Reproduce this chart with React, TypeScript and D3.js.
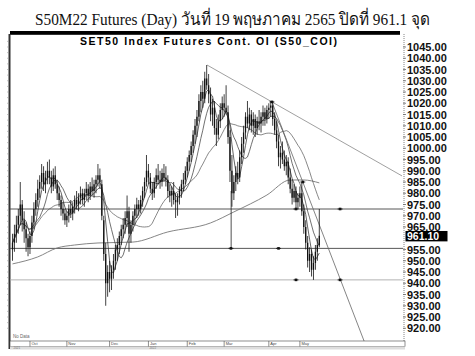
import React from 'react';
import * as d3 from 'd3';

// ---- data ----
const monthLabels = ['Oct', 'Nov', 'Dec', 'Jan', 'Feb', 'Mar', 'Apr', 'May'];
const monthStartIdx = [9, 28, 50, 70, 90, 109, 132, 148];
const yearLabels = ['2021', '2022'];
const yearStartIdx = [0, 70];

const openP = [
  955, 958, 962, 966, 970, 975, 968, 964, 960,
  956, 961, 967, 973, 977, 982, 985, 989, 984, 987, 990, 987, 983, 988, 984, 980, 977, 973, 971,
  968, 970, 973, 971, 974, 977, 975, 978, 980, 977, 980, 982, 979, 983, 981, 984, 986, 988, 984, 968, 953, 940,
  945, 942, 946, 950, 955, 957, 961, 964, 966, 969, 972, 962, 966, 970, 973, 975, 973, 977, 981, 985,
  990, 987, 982, 980, 985, 988, 986, 985, 989, 987, 986, 981, 979, 981, 977, 976, 978, 981, 984, 986,
  990, 994, 997, 1001, 1006, 1010, 1014, 1021, 1025, 1022, 1031, 1028, 1024, 1015, 1018, 1009, 1006, 1012, 1017,
  1020, 1018, 1016, 1005, 990, 980, 985, 989, 987, 996, 1002, 1007, 1014, 1011, 1015, 1010, 1013, 1009, 1012, 1011, 1014, 1016, 1013,
  1017, 1018, 1019, 1013, 1008, 1003, 996, 998, 995, 992, 994, 987, 982, 978, 981, 976,
  978, 980, 972, 965, 958, 950, 953, 946, 949, 954, 957,
];
const highP = [
  962, 966, 970, 973, 985, 977, 972, 967, 962,
  963, 970, 976, 980, 986, 988, 993, 992, 990, 994, 995, 990, 991, 992, 986, 983, 979, 976, 973,
  972, 975, 977, 976, 979, 981, 980, 983, 982, 982, 985, 984, 985, 987, 986, 988, 993, 991, 986, 970, 958, 948,
  950, 948, 953, 957, 960, 963, 966, 969, 972, 979, 974, 968, 972, 975, 978, 977, 979, 983, 987, 997,
  993, 989, 985, 987, 991, 993, 990, 991, 993, 992, 988, 984, 983, 985, 980, 980, 983, 986, 989, 992,
  996, 999, 1003, 1008, 1013, 1017, 1024, 1028, 1030, 1034, 1037, 1033, 1027, 1022, 1021, 1013, 1015, 1020, 1023,
  1024, 1028, 1019, 1008, 997, 988, 992, 994, 999, 1005, 1010, 1016, 1021, 1018, 1017, 1016, 1015, 1014, 1017, 1016, 1019, 1018, 1019,
  1020, 1021, 1021, 1016, 1012, 1006, 1001, 1003, 999, 997, 996, 991, 986, 984, 983, 980,
  983, 985, 975, 968, 961, 956, 955, 952, 957, 960, 973,
];
const lowP = [
  950, 954, 958, 962, 966, 963, 958, 954, 952,
  953, 958, 964, 970, 974, 978, 982, 981, 980, 984, 984, 980, 981, 982, 977, 974, 970, 968, 966,
  965, 967, 969, 968, 971, 973, 972, 975, 975, 974, 977, 976, 977, 979, 978, 980, 983, 982, 968, 950, 930, 934,
  936, 937, 942, 946, 950, 953, 957, 960, 962, 965, 954, 958, 963, 966, 969, 970, 971, 974, 978, 983,
  984, 980, 977, 978, 982, 984, 982, 983, 985, 983, 978, 976, 974, 975, 969, 970, 975, 978, 981, 984,
  987, 990, 994, 998, 1002, 1005, 1012, 1016, 1018, 1020, 1026, 1020, 1012, 1010, 1006, 1001, 1004, 1009, 1013,
  1014, 1015, 1002, 985, 974, 977, 981, 984, 985, 993, 998, 1004, 1009, 1008, 1007, 1006, 1005, 1006, 1008, 1007, 1010, 1010, 1011,
  1013, 1014, 1010, 1006, 1000, 992, 991, 993, 990, 988, 984, 980, 975, 976, 973, 973,
  974, 970, 962, 955, 947, 945, 943, 941.5, 946, 950, 956,
];
const closeP = [
  958, 962, 966, 970, 975, 968, 964, 960, 956,
  961, 967, 973, 977, 982, 985, 989, 984, 987, 990, 987, 983, 988, 984, 980, 977, 973, 971, 968,
  970, 973, 971, 974, 977, 975, 978, 980, 977, 980, 982, 979, 983, 981, 984, 986, 988, 985, 970, 953, 940, 945,
  942, 946, 950, 955, 957, 961, 964, 966, 969, 972, 962, 966, 970, 973, 975, 973, 977, 981, 985, 990,
  987, 982, 980, 985, 988, 986, 985, 989, 987, 986, 981, 979, 981, 977, 976, 978, 981, 984, 986, 990,
  994, 997, 1001, 1006, 1010, 1014, 1021, 1025, 1022, 1031, 1028, 1024, 1015, 1018, 1009, 1006, 1012, 1017, 1020,
  1018, 1016, 1005, 990, 980, 985, 989, 987, 996, 1002, 1007, 1014, 1011, 1015, 1010, 1013, 1009, 1012, 1011, 1014, 1016, 1013, 1017,
  1018, 1019, 1013, 1008, 1003, 996, 998, 995, 992, 994, 987, 982, 978, 981, 976, 978,
  980, 972, 965, 958, 950, 953, 946, 949, 954, 957, 961.1,
];

// long moving average: [bar index, value]
const longMA: [number, number][] = [
  [0, 948.6], [13, 951.7], [23, 955.7], [32, 957], [44, 957.9], [62, 958.3], [80, 962.8],
  [102, 966.8], [114, 971.7], [131, 979.2], [143, 985.9], [150, 985.9], [158, 984.6],
];
const maPeriods = [5, 10, 25];

const yTickValues = [
  1045, 1040, 1035, 1030, 1025, 1020, 1015, 1010, 1005, 1000, 995, 990, 985, 980, 975, 970, 965,
  955, 950, 945, 940, 935, 930, 925, 920,
];
const lastClose = 961.1;

const levels = [973, 955.5, 941.5];
const levelColors = ['#444', '#444', '#aaa'];
const levelMarkers: [number, number][] = [
  [146, 973], [168.7, 973], [112.5, 955.5], [137, 955.5], [146, 941.5], [168.7, 941.5],
];
const peakMarkers: [number, number][] = [[133.6, 1020.6], [149.5, 985]];
const trendA: [number, number][] = [[100.2, 1037], [133.6, 1020.6]];
const trendB: [number, number][] = [[133.6, 1020.6], [149.5, 985]];
const dropLine: [number, number][] = [[112.6, 981], [112.6, 955.5]];

const title = 'S50M22 Futures (Day) วันที่ 19 พฤษภาคม 2565 ปิดที่ 961.1 จุด';
const subTitle = 'SET50 Index Futures Cont. OI (S50_COI)';

// ---- layout ----
const W = 475, H = 356;
const PL = 10, PR = 403, PT = 34, PB = 341;

function sma(vals: number[], n: number): number[] {
  return vals.map((_, i) => {
    const s = Math.max(0, i - n + 1);
    const w = vals.slice(s, i + 1);
    return d3.mean(w) as number;
  });
}

export default function App() {
  const x = d3.scaleLinear().domain([0, 158]).range([12.5, 319.3]);
  const y = d3.scaleLinear().domain([920, 1045]).range([328.25, 47]);

  const lineGen = d3.line<[number, number]>().x(d => x(d[0])).y(d => y(d[1]));
  const curveGen = d3.line<[number, number]>().x(d => x(d[0])).y(d => y(d[1])).curve(d3.curveMonotoneX);

  const mas = maPeriods.map(p => sma(closeP, p).map((v, i) => [i, v] as [number, number]));

  const extend = (pts: [number, number][], toIdx: number): [number, number][] => {
    const [a, b] = pts;
    const slope = (b[1] - a[1]) / (b[0] - a[0]);
    return [a, [toIdx, a[1] + slope * (toIdx - a[0])]];
  };
  const tA = extend(trendA, x.invert(PR - 1));
  const tB = extend(trendB, x.invert(380));

  const leftTicks = d3.range(920, 1050, 2.5);
  const bw = 1.3;

  return (
    <svg width={W} height={H} style={{ position: 'absolute', left: 0, top: 0, background: '#fff' }}
      fontFamily="'Liberation Sans', Arial, sans-serif">
      <defs>
        <clipPath id="plot">
          <rect x={PL} y={PT} width={PR - PL} height={PB - PT} />
        </clipPath>
      </defs>
      <rect x={0} y={0} width={W} height={H} fill="#fff" />
      {/* main title */}
      <text x={232.5} y={25} textAnchor="middle" fontSize={17}
        fontFamily="'Liberation Serif', 'Times New Roman', serif" fill="#111"
        textLength={395} lengthAdjust="spacingAndGlyphs">{title}</text>

      {/* top border */}
      <rect x={PL} y={31} width={390} height={3.8} fill="#000" />
      <text x={208.5} y={44.5} textAnchor="middle" fontSize={10.5} fontWeight="bold" fill="#000"
        textLength={257} lengthAdjust="spacing">{subTitle}</text>

      {/* left axis */}
      <rect x={PL - 1.5} y={PT} width={2} height={PB - PT + 8} fill="#333" />
      {leftTicks.map(t => (
        <line key={t} x1={PL - 3} x2={PL - 1} y1={y(t)} y2={y(t)} stroke="#999" strokeWidth={0.6} />
      ))}

      {/* right axis */}
      <line x1={404} x2={404} y1={PT} y2={PB + 8} stroke="#666" strokeWidth={0.8} strokeDasharray="1,1" />
      {yTickValues.map(t => (
        <g key={t}>
          <line x1={403} x2={406} y1={y(t)} y2={y(t)} stroke="#555" strokeWidth={0.7} />
          <text x={407} y={y(t) + 4} fontSize={11} fontWeight="bold" fill="#111">{t.toFixed(2)}</text>
        </g>
      ))}
      <rect x={405.5} y={y(lastClose) - 4.8} width={42} height={10.4} fill="#000" />
      <text x={407} y={y(lastClose) + 3.8} fontSize={10.5} fontWeight="bold" fill="#fff">{lastClose.toFixed(2)}</text>

      <g clipPath="url(#plot)">
        {/* horizontal levels */}
        {levels.map((l, i) => (
          <line key={l} x1={PL} x2={PR} y1={y(l)} y2={y(l)} stroke={levelColors[i]} strokeWidth={0.9} />
        ))}
        {/* long MA */}
        <path d={curveGen(longMA) || ''} fill="none" stroke="#777" strokeWidth={0.9} />
        {/* short MAs */}
        {mas.map((m, k) => (
          <path key={k} d={lineGen(m) || ''} fill="none" stroke={['#222', '#333', '#555'][k]} strokeWidth={0.7} />
        ))}
        {/* trend lines */}
        <path d={lineGen(tA) || ''} fill="none" stroke="#888" strokeWidth={0.8} />
        <path d={lineGen(tB) || ''} fill="none" stroke="#666" strokeWidth={0.8} />
        <path d={lineGen(dropLine) || ''} fill="none" stroke="#222" strokeWidth={0.8} />
        {/* price bars */}
        {closeP.map((c, i) => {
          const o = openP[i];
          const top = y(Math.max(o, c));
          const bot = y(Math.min(o, c));
          return (
            <g key={i}>
              <line x1={x(i)} x2={x(i)} y1={y(highP[i])} y2={y(lowP[i])} stroke="#111" strokeWidth={0.8} />
              <rect x={x(i) - bw / 2} y={top} width={bw} height={Math.max(0.8, bot - top)} fill="#111" />
            </g>
          );
        })}
        {/* markers */}
        {levelMarkers.concat(peakMarkers).map((m, i) => (
          <g key={i}>
            <rect x={x(m[0]) - 1.3} y={y(m[1]) - 1.3} width={2.6} height={2.6} fill="#111" />
            <line x1={x(m[0]) - 2.5} x2={x(m[0]) + 2.5} y1={y(m[1])} y2={y(m[1])} stroke="#111" strokeWidth={0.8} />
          </g>
        ))}
      </g>

      <text x={13} y={338} fontSize={4.5} fill="#666">No Data</text>

      {/* bottom date strip */}
      <rect x={PL} y={PB} width={PR + 2 - PL} height={5.5} fill="#fff" stroke="#444" strokeWidth={0.6} />
      <rect x={PL} y={PB + 5.5} width={PR + 2 - PL} height={3} fill="#ddd" />
      {monthLabels.map((m, i) => (
        <g key={m}>
          <line x1={x(monthStartIdx[i])} x2={x(monthStartIdx[i])} y1={PB} y2={PB + 5.5} stroke="#444" strokeWidth={0.6} />
          <text x={x(monthStartIdx[i]) + 1.5} y={PB + 4.3} fontSize={4} fill="#444">{m}</text>
        </g>
      ))}
      {yearLabels.map((yl, i) => (
        <text key={yl} x={x(yearStartIdx[i]) + 1} y={PB + 8} fontSize={3} fill="#777">{yl}</text>
      ))}
    </svg>
  );
}
